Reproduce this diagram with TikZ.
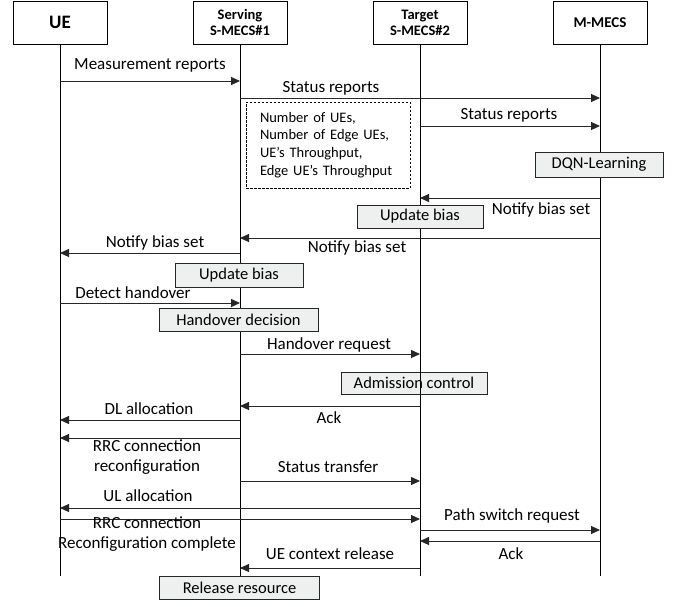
\documentclass[tikz,border=0pt]{standalone}
\usepackage{fontspec}
\setmainfont{Carlito}
\usetikzlibrary{arrows.meta,positioning}

\definecolor{boxgrey}{HTML}{EEF0F0}

\begin{document}
\begin{tikzpicture}[x=1pt,y=-1pt,
    entity/.style={draw,line width=0.9pt,minimum width=94pt,minimum height=43pt,
      inner sep=0pt,align=center,font=\bfseries\fontsize{14.5}{16}\selectfont},
    life/.style={line width=0.8pt},
    msg/.style={line width=0.9pt,draw=black!85,-{Triangle[length=9pt,width=8pt]}},
    lbl/.style={inner sep=0pt,align=center,font=\fontsize{17}{20}\selectfont},
    proc/.style={draw=black!85,line width=0.9pt,fill=boxgrey,minimum height=23pt,
      inner sep=0pt,font=\fontsize{16.5}{20}\selectfont}]
        \useasboundingbox (0,0) rectangle (684,606);

        % Entities
        \node[entity,font=\bfseries\fontsize{19}{22}\selectfont] (ue) at (60,22.5) {UE};
        \node[entity] (srv) at (240,22.5) {Serving\\S-MECS\#1};
        \node[entity] (tgt) at (420,22.5) {Target\\S-MECS\#2};
        \node[entity,font=\bfseries\fontsize{15}{18}\selectfont] (mm) at (600,22.5) {M-MECS};

        % Rows of the messages
        \coordinate (bot) at (0,576);
        \foreach \n/\y in {1/81,2/98,3/126,4/198,5/238,6/253,7/303,8/354,9/406,
                           10/420,11/438,12/481,13/508,14/519,15/530,16/541,17/568} {
          \coordinate (m\n) at (0,\y);
        }

        % Lifelines
        \foreach \e in {ue,srv,tgt,mm} {
          \draw[life] (\e) -- (\e |- bot);
        }

        % Messages
        \draw[msg] (ue |- m1)  -- (srv |- m1);
        \draw[msg] (srv |- m2) -- (mm |- m2);
        \draw[msg] (tgt |- m3) -- (mm |- m3);
        \draw[msg] (mm |- m4)  -- (tgt |- m4);
        \draw[msg] (mm |- m5)  -- (srv |- m5);
        \draw[msg] (srv |- m6) -- (ue |- m6);
        \draw[msg] (ue |- m7)  -- (srv |- m7);
        \draw[msg] (srv |- m8) -- (tgt |- m8);
        \draw[msg] (tgt |- m9) -- (srv |- m9);
        \draw[msg] (srv |- m10) -- (ue |- m10);
        \draw[msg] (srv |- m11) -- (ue |- m11);
        \draw[msg] (srv |- m12) -- (tgt |- m12);
        \draw[msg] (tgt |- m13) -- (ue |- m13);
        \draw[msg] (ue |- m14) -- (tgt |- m14);
        \draw[msg] (tgt |- m15) -- (mm |- m15);
        \draw[msg] (mm |- m16) -- (tgt |- m16);
        \draw[msg] (tgt |- m17) -- (srv |- m17);

        % Message labels
        \node[lbl] (t1)  at (150,65)  {Measurement reports};
        \node[lbl] (t2)  at (331,88)  {Status reports};
        \node[lbl] (t3)  at (509,115) {Status reports};
        \node[lbl] (t4)  at (541,210) {Notify bias set};
        \node[lbl] (t5)  at (357,248) {Notify bias set};
        \node[lbl] (t6)  at (155,243) {Notify bias set};
        \node[lbl] (t7)  at (133,293) {Detect handover};
        \node[lbl] (t8)  at (329,345) {Handover request};
        \node[lbl] (t9)  at (329,418) {Ack};
        \node[lbl] (t10) at (149,409) {DL allocation};
        \node[lbl] (t11) at (147,457) {RRC connection\\reconfiguration};
        \node[lbl] (t12) at (328,467) {Status transfer};
        \node[lbl] (t13) at (148,496) {UL allocation};
        \node[lbl] (t14) at (147,534) {RRC connection\\Reconfiguration complete};
        \node[lbl] (t15) at (512,516) {Path switch request};
        \node[lbl] (t16) at (511,554) {Ack};
        \node[lbl] (t17) at (330,554) {UE context release};

        % Status contents
        \node[draw,line width=0.8pt,dash pattern=on 2.5pt off 1.5pt,text width=136pt,
          inner xsep=14pt,minimum height=86pt,align=left,
          font=\fontsize{14.5}{17.7}\selectfont] (stat) at (328,145)
          {Number of UEs,\\Number of Edge UEs,\\UE’s Throughput,\\Edge UE’s Throughput};

        % Actions
        \node[proc,minimum width=128pt,minimum height=25pt] (dqn) at (599,164.5) {DQN-Learning};
        \node[proc,minimum width=126pt] (upd2) at (420,216.5) {Update bias};
        \node[proc,minimum width=128pt,minimum height=24pt] (upd1) at (239,275) {Update bias};
        \node[proc,minimum width=159pt] (hodec) at (238.5,319.5) {Handover decision};
        \node[proc,minimum width=146pt,minimum height=22pt] (adm) at (414,383) {Admission control};
        \node[proc,minimum width=160pt] (rel) at (239.5,587.5) {Release resource};
        \draw[life] (adm.north -| tgt) -- (adm.south -| tgt);
\end{tikzpicture}
\end{document}
